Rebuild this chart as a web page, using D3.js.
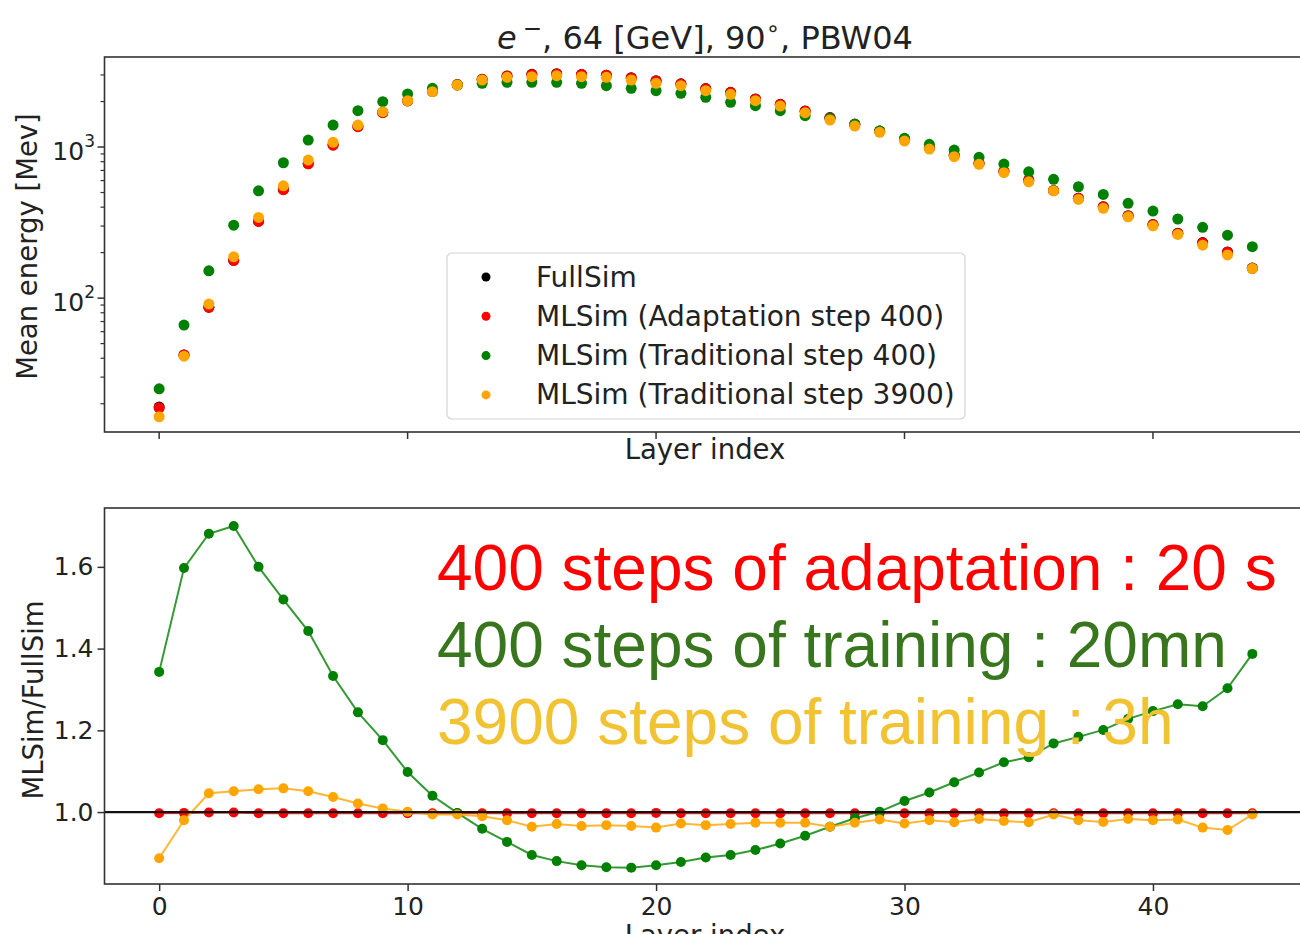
<!DOCTYPE html>
<html>
<head>
<meta charset="utf-8">
<script src="https://cdn.jsdelivr.net/npm/d3@7"></script>
<style>
  body { margin: 0; background: #fff; }
  svg { display: block; font-family: "DejaVu Sans", sans-serif; }
</style>
</head>
<body>
<div id="chart"></div>
<script>
// layer index (x values)
var layers = [0, 1, 2, 3, 4, 5, 6, 7, 8, 9, 10, 11, 12, 13, 14, 15, 16, 17, 18, 19, 20, 21,
  22, 23, 24, 25, 26, 27, 28, 29, 30, 31, 32, 33, 34, 35, 36, 37, 38, 39, 40, 41, 42, 43, 44];

// mean energy per layer [MeV]
var fullSim = [19.0, 42.1, 87.1, 178, 323, 524, 777, 1033, 1368, 1696, 2024, 2338, 2590, 2806,
  2953, 3030, 3055, 3024, 2990, 2876, 2746, 2620, 2437, 2301, 2080, 1918, 1733, 1566, 1414,
  1275, 1128, 990, 885, 781, 691, 604, 516, 459, 403, 351, 307, 269, 233, 202, 158];
var adapt400 = [18.8, 42.0, 86.9, 177.5, 322, 522, 775, 1030, 1364, 1690, 2018, 2331, 2582, 2798,
  2944, 3021, 3046, 3015, 2981, 2867, 2738, 2612, 2430, 2294, 2074, 1912, 1728, 1561, 1410,
  1271, 1124, 987, 882, 779, 689, 602, 514, 458, 402, 350, 306, 268, 232, 201, 157.5];
var trad400 = [25.1, 66.3, 151.6, 304, 513, 787, 1113, 1398, 1740, 1995, 2244, 2447, 2574, 2642,
  2683, 2683, 2683, 2642, 2547, 2447, 2359, 2268, 2134, 1977, 1877, 1740, 1612, 1549, 1420,
  1276, 1142, 1042, 955, 855, 772, 686, 611, 546, 486, 424, 377, 334, 294, 261, 219];
var trad3900 = [16.4, 41.3, 91.3, 187.7, 342, 554, 820, 1074, 1398, 1713, 2026, 2324, 2574, 2778,
  2894, 2921, 2966, 2921, 2894, 2778, 2642, 2547, 2359, 2234, 2026, 1868, 1688, 1510, 1377,
  1252, 1096, 970, 863, 768, 676, 589, 513, 450, 393, 345, 301, 264, 224, 193, 157];

// MLSim/FullSim ratio
var ratioAdapt = [0.997, 0.998, 0.999, 0.999, 0.997, 0.997, 0.997, 0.997, 0.997, 0.997, 0.997,
  0.997, 0.997, 0.997, 0.997, 0.997, 0.997, 0.997, 0.997, 0.997, 0.998, 0.997, 0.997, 0.997,
  0.997, 0.997, 0.997, 0.997, 0.997, 0.997, 0.997, 0.997, 0.997, 0.997, 0.997, 0.997, 0.997,
  0.997, 0.997, 0.997, 0.997, 0.997, 0.997, 0.997, 0.997];
var ratioTrad400 = [1.343, 1.597, 1.681, 1.700, 1.600, 1.520, 1.443, 1.333, 1.244, 1.176, 1.098,
  1.040, 0.998, 0.959, 0.927, 0.895, 0.880, 0.870, 0.865, 0.864, 0.870, 0.878, 0.889, 0.895,
  0.907, 0.923, 0.942, 0.964, 0.985, 1.001, 1.027, 1.048, 1.073, 1.097, 1.122, 1.134, 1.168,
  1.184, 1.201, 1.228, 1.247, 1.264, 1.259, 1.303, 1.387];
var ratioTrad3900 = [0.887, 0.980, 1.046, 1.051, 1.056, 1.058, 1.051, 1.037, 1.021, 1.009, 1.001,
  0.994, 0.994, 0.990, 0.980, 0.964, 0.971, 0.966, 0.968, 0.966, 0.962, 0.972, 0.968, 0.971,
  0.974, 0.974, 0.974, 0.964, 0.974, 0.982, 0.972, 0.980, 0.975, 0.983, 0.978, 0.975, 0.994,
  0.980, 0.976, 0.983, 0.980, 0.982, 0.962, 0.956, 0.994];

var legendLabels = ["FullSim", "MLSim (Adaptation step 400)", "MLSim (Traditional step 400)",
  "MLSim (Traditional step 3900)"];
var seriesColors = ["#000000", "#ff0000", "#008000", "#ffa500"];
var xTicks = [0, 10, 20, 30, 40];
var ratioTicks = [1.0, 1.2, 1.4, 1.6];
var notes = ["400 steps of adaptation : 20 s", "400 steps of training : 20mn",
  "3900 steps of training : 3h"];
var noteColors = ["#ff0000", "#38761d", "#f1c232"];

var width = 1300;
var height = 934;
var left = 104.5;
var right = 1307;
var top1 = 57, bottom1 = 432;
var top2 = 508, bottom2 = 884;
var spine = "#333";

var svg = d3.select("#chart").append("svg")
  .attr("width", width)
  .attr("height", height);

var xScale = d3.scaleLinear().domain([-2.2, 46.2]).range([left, right]);
var yLog = d3.scaleLog().domain([13.0, 3944]).range([bottom1, top1]);
var yRatio = d3.scaleLinear().domain([0.824, 1.744]).range([bottom2, top2]);

// ---------- top panel ----------
var topG = svg.append("g").attr("class", "topPanel");

var topPts = [fullSim, adapt400, trad400, trad3900];
topPts.forEach(function(vals, i) {
  topG.selectAll(".pt" + i)
    .data(layers)
    .enter()
    .append("circle")
    .attr("class", "pt" + i)
    .attr("cx", function(d) { return xScale(d); })
    .attr("cy", function(d) { return yLog(vals[d]); })
    .attr("r", 5.5)
    .attr("fill", seriesColors[i]);
});

// log axis ticks
var minorTicks = [];
[10, 100, 1000].forEach(function(dec) {
  for (var m = 2; m <= 9; m++) {
    var v = dec * m;
    if (v >= 13 && v <= 3944) minorTicks.push(v);
  }
});
topG.selectAll(".minor")
  .data(minorTicks)
  .enter()
  .append("line")
  .attr("x1", left - 4).attr("x2", left)
  .attr("y1", function(d) { return yLog(d); })
  .attr("y2", function(d) { return yLog(d); })
  .attr("stroke", spine).attr("stroke-width", 1.2);

var majorLog = [{ v: 100, e: "2" }, { v: 1000, e: "3" }];
majorLog.forEach(function(t) {
  var y = yLog(t.v);
  topG.append("line")
    .attr("x1", left - 7).attr("x2", left)
    .attr("y1", y).attr("y2", y)
    .attr("stroke", spine).attr("stroke-width", 1.5);
  var lab = topG.append("text")
    .attr("x", 95)
    .attr("y", y + 13)
    .attr("text-anchor", "end")
    .attr("font-size", 25)
    .attr("fill", "#222");
  lab.append("tspan").text("10");
  lab.append("tspan").attr("font-size", 17).attr("dy", -13).text(t.e);
});

topG.selectAll(".xt")
  .data(xTicks)
  .enter()
  .append("line")
  .attr("x1", function(d) { return xScale(d); })
  .attr("x2", function(d) { return xScale(d); })
  .attr("y1", bottom1).attr("y2", bottom1 + 7)
  .attr("stroke", spine).attr("stroke-width", 1.5);

topG.append("rect")
  .attr("x", left).attr("y", top1)
  .attr("width", right - left).attr("height", bottom1 - top1)
  .attr("fill", "none").attr("stroke", spine).attr("stroke-width", 1.6);

topG.append("text")
  .attr("x", 705).attr("y", 459)
  .attr("text-anchor", "middle")
  .attr("font-size", 27.5).attr("fill", "#222")
  .text("Layer index");

topG.append("text")
  .attr("transform", "translate(37,246.5)rotate(-90)")
  .attr("text-anchor", "middle")
  .attr("font-size", 27.5).attr("fill", "#222")
  .text("Mean energy [Mev]");

// title
var title = svg.append("text")
  .attr("x", 705).attr("y", 49)
  .attr("text-anchor", "middle")
  .attr("font-size", 32).attr("fill", "#222");
title.append("tspan").attr("font-style", "italic").text("e");
title.append("tspan").attr("font-size", 23).attr("dx", 6).attr("dy", -13).text("\u2212");
title.append("tspan").attr("dy", 13).text(", 64 [GeV], 90");
title.append("tspan").attr("font-size", 23).attr("dy", -13).text("\u2218");
title.append("tspan").attr("dy", 13).text(", PBW04");

// legend
var legend = topG.append("g").attr("class", "legend");
legend.append("rect")
  .attr("x", 447).attr("y", 253)
  .attr("width", 518).attr("height", 166)
  .attr("rx", 5).attr("ry", 5)
  .attr("fill", "#fff").attr("fill-opacity", 0.8)
  .attr("stroke", "#d4d4d4").attr("stroke-width", 1.2);
legendLabels.forEach(function(lab, i) {
  var y = 277 + i * 39.3;
  legend.append("circle")
    .attr("cx", 486).attr("cy", y).attr("r", 4.5)
    .attr("fill", seriesColors[i]);
  legend.append("text")
    .attr("x", 536).attr("y", y)
    .attr("dominant-baseline", "central")
    .attr("font-size", 28).attr("fill", "#222")
    .text(lab);
});

// ---------- bottom panel ----------
var bot = svg.append("g").attr("class", "bottomPanel");

var ratioSeries = [
  { vals: ratioAdapt, color: seriesColors[1] },
  { vals: ratioTrad400, color: seriesColors[2] },
  { vals: ratioTrad3900, color: seriesColors[3] }
];

ratioSeries.forEach(function(s, i) {
  var line = d3.line()
    .x(function(d) { return xScale(d); })
    .y(function(d) { return yRatio(s.vals[d]); });
  bot.append("path")
    .datum(layers)
    .attr("d", line)
    .attr("fill", "none")
    .attr("stroke", s.color)
    .attr("stroke-opacity", 0.8)
    .attr("stroke-width", 2);
  bot.selectAll(".r" + i)
    .data(layers)
    .enter()
    .append("circle")
    .attr("class", "r" + i)
    .attr("cx", function(d) { return xScale(d); })
    .attr("cy", function(d) { return yRatio(s.vals[d]); })
    .attr("r", 5)
    .attr("fill", s.color);
});

bot.append("line")
  .attr("x1", left).attr("x2", right)
  .attr("y1", yRatio(1)).attr("y2", yRatio(1))
  .attr("stroke", "#111").attr("stroke-width", 2.2);

var yAxis = d3.axisLeft(yRatio)
  .tickValues(ratioTicks)
  .tickFormat(d3.format(".1f"))
  .tickSize(7)
  .tickPadding(4);
var gy = bot.append("g")
  .attr("transform", "translate(" + left + ",0)")
  .call(yAxis);

var xAxis = d3.axisBottom(xScale)
  .tickValues(xTicks)
  .tickSize(7)
  .tickPadding(6);
var gx = bot.append("g")
  .attr("transform", "translate(0," + bottom2 + ")")
  .call(xAxis);

[gx, gy].forEach(function(g) {
  g.select(".domain").remove();
  g.selectAll(".tick line").attr("stroke", spine).attr("stroke-width", 1.5);
  g.selectAll(".tick text")
    .attr("font-family", "DejaVu Sans")
    .attr("font-size", 25)
    .attr("fill", "#222");
});

bot.append("rect")
  .attr("x", left).attr("y", top2)
  .attr("width", right - left).attr("height", bottom2 - top2)
  .attr("fill", "none").attr("stroke", spine).attr("stroke-width", 1.6);

// x label of the lower panel sits partly below the picture edge, as in the source image
bot.append("text")
  .attr("x", 705).attr("y", 945)
  .attr("text-anchor", "middle")
  .attr("font-size", 27.5).attr("fill", "#222")
  .text("Layer index");

bot.append("text")
  .attr("transform", "translate(43,700)rotate(-90)")
  .attr("text-anchor", "middle")
  .attr("font-size", 27.5).attr("fill", "#222")
  .text("MLSim/FullSim");

// annotations
notes.forEach(function(t, i) {
  svg.append("text")
    .attr("x", 437)
    .attr("y", 590 + i * 77)
    .attr("font-family", "Liberation Sans, Arial, sans-serif")
    .attr("font-size", 64)
    .attr("fill", noteColors[i])
    .text(t);
});
</script>
</body>
</html>
